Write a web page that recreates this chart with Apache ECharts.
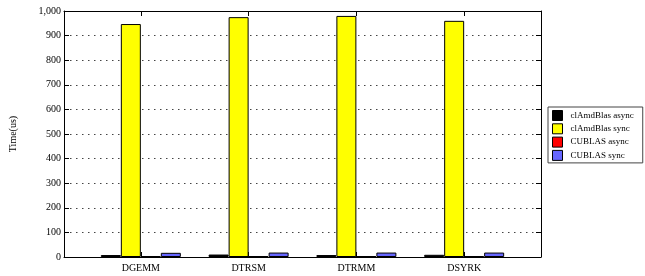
<!DOCTYPE html>
<html>
<head>
<meta charset="utf-8">
<script src="https://cdn.jsdelivr.net/npm/echarts@6/dist/echarts.min.js"></script>
<style>
  html, body { margin: 0; padding: 0; background: #fff; }
  #chart { width: 645px; height: 276px; }
</style>
</head>
<body>
<div id="chart"></div>
<script>
const categories = ['DGEMM', 'DTRSM', 'DTRMM', 'DSYRK']
const seriesNames = ['clAmdBlas async', 'clAmdBlas sync', 'CUBLAS async', 'CUBLAS sync']
const clAmdAsync = [8, 10, 8, 9]
const clAmdSync = [947, 975, 980, 960]
const cublasAsync = [4, 4, 4, 4]
const cublasSync = [17, 18, 18, 18]

const colors = ['#000000', '#ffff00', '#ff0000', '#6666ff']
const values = [clAmdAsync, clAmdSync, cublasAsync, cublasSync]
const font = 'Liberation Serif'
const catPos = categories.map((c, i) => i)

let chart = echarts.init(document.getElementById('chart'))

let xCommon = {
  type: 'value',
  min: -0.713,
  max: 3.713,
  splitLine: { show: false },
  axisLine: { show: true, onZero: false, lineStyle: { color: '#000', width: 1 } },
  axisTick: { show: true, inside: true, length: 5, customValues: catPos, lineStyle: { color: '#000' } }
}

let yCommon = {
  type: 'value',
  min: 0,
  max: 1000,
  interval: 100,
  axisLine: { show: true, onZero: false, lineStyle: { color: '#000', width: 1 } },
  axisTick: { show: true, inside: true, length: 5, lineStyle: { color: '#000' } }
}

let option = {
  animation: false,
  textStyle: { fontFamily: font },
  grid: { left: 63, right: 104, top: 11, bottom: 19 },
  legend: {
    orient: 'vertical',
    left: 548,
    top: 107,
    padding: [3, 9, 2, 4],
    itemGap: 2.3,
    itemWidth: 10,
    itemHeight: 10,
    icon: 'rect',
    borderColor: '#444',
    borderWidth: 1,
    textStyle: { fontFamily: font, fontSize: 9, color: '#000', padding: [0, 0, 0, 3] },
    data: seriesNames.map((n, i) => ({ name: n, itemStyle: { color: colors[i], borderColor: '#000', borderWidth: 1 } }))
  },
  xAxis: [
    Object.assign({}, xCommon, {
      position: 'bottom',
      axisLabel: {
        show: true,
        customValues: catPos,
        margin: 6,
        fontFamily: font,
        fontSize: 10,
        color: '#000',
        formatter: v => categories[Math.round(v)]
      }
    }),
    Object.assign({}, xCommon, { position: 'top', axisLabel: { show: false } })
  ],
  yAxis: [
    Object.assign({}, yCommon, {
      position: 'left',
      name: 'Time(us)',
      nameLocation: 'middle',
      nameGap: 46,
      nameTextStyle: { fontFamily: font, fontSize: 10, color: '#000' },
      axisLabel: {
        margin: 3,
        fontFamily: font,
        fontSize: 10,
        color: '#000',
        formatter: v => v.toLocaleString('en-US')
      },
      splitLine: { show: true, lineStyle: { color: '#444', width: 1, type: [1.5, 4.5] } }
    }),
    Object.assign({}, yCommon, {
      position: 'right',
      axisLabel: { show: false },
      splitLine: { show: false }
    })
  ],
  series: seriesNames.map((name, i) => ({
    name: name,
    type: 'bar',
    xAxisIndex: 0,
    yAxisIndex: 0,
    barWidth: 20,
    barGap: '0%',
    itemStyle: { color: colors[i], borderColor: '#000', borderWidth: 1 },
    data: categories.map((c, j) => [j, values[i][j]])
  }))
}

chart.setOption(option)
</script>
</body>
</html>
